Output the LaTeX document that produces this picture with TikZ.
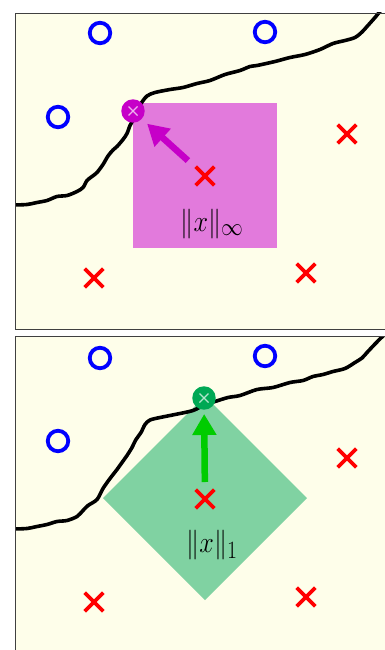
\documentclass[tikz,border=0pt]{standalone}
\usepackage{amsmath}
\usepackage{graphicx}
\usepackage{xcolor}
\usetikzlibrary{arrows.meta,calc,positioning,shapes.misc}
\definecolor{bgyel}{RGB}{254,254,234}
\definecolor{sqpink}{RGB}{226,122,220}
\definecolor{ptmag}{RGB}{198,0,200}
\definecolor{dmgreen}{RGB}{128,210,162}
\definecolor{ptgreen}{RGB}{0,168,84}
\definecolor{argreen}{RGB}{0,204,0}
\newcommand{\nrm}[1]{\scalebox{1.05}[1.2]{$\lVert x\rVert_{#1}$}}
\begin{document}
\begin{tikzpicture}[
    x=1pt, y=-1pt,
    negmark/.style={circle, draw=blue, line width=3.8pt, minimum size=20.5pt, inner sep=0pt},
    posmark/.style={cross out, draw=red, line width=3.6pt, minimum size=15pt, inner sep=0pt},
    advmark/.style={circle, line width=3.4pt, minimum size=20pt, inner sep=0pt,
                 path picture={\draw[white, opacity=.7, line width=1.2pt]
                   ($(path picture bounding box.center)+(-4.5,-4.5)$) -- +(9,9)
                   ($(path picture bounding box.center)+(-4.5,4.5)$) -- +(9,-9);}},
    bnd/.style ={line width=3.6pt, line join=round, line cap=round},
    arr/.style ={-{Triangle[length=21pt, width=23pt]}, line width=6.5pt},
    lbl/.style ={font=\Huge, inner sep=0pt},
  ]
  \useasboundingbox (0,0) rectangle (385,650);
  % ---------- top panel: infinity norm ----------
  \fill[bgyel] (15,13) rectangle (392,329);
  \fill[sqpink] (133,103) rectangle (277,248);
  \begin{scope}
    \clip (15,13) rectangle (392,329);
    \draw[bnd] plot[smooth, tension=0.5] coordinates {
      (13,205) (27,204.5) (37,202.5) (47,200.5) (57,196.5) (67,195.5) (77,191.5) (83,187.5)
      (87,180.5) (92,176.5) (97,172.5) (103,164.5) (108,156) (113,150) (117,146.5) (123,139.5)
      (127,133.5) (130,125.5) (134,118.5) (137,111.5) (141,103.5) (147,96) (155,92.5)
      (170,89.5) (183,87.5) (197,83.5) (210,80.5) (225,74.5) (240,70.5) (250,66.5) (257,65.5)
      (275,61.5) (290,57.5) (305,54.5) (320,49.5) (333,43.5) (345,40.5) (355,37.5) (362,32)
      (367,26.5) (375,17.5) (383,8) (392,0)};
  \end{scope}
  \draw[black!75, line width=0.9pt] (392,13) -- (15,13) -- (15,329) -- (392,329);
  \node[negmark] (o1) at (100,33) {};
  \node[negmark] (o2) at (265,32) {};
  \node[negmark] (o3) at (58,117) {};
  \node[posmark] (x1) at (347,134) {};
  \node[posmark] (x2) at (205,176) {};
  \node[posmark] (x3) at (94,278) {};
  \node[posmark] (x4) at (306,273) {};
  \node[advmark, draw=ptmag, fill=ptmag] (a1) at (133,111) {};
  \draw[arr, ptmag, shorten <=23pt, shorten >=19pt] (x2.center) -- (a1.center);
  \node[lbl] (n1) at (212,224) {\nrm{\infty}};
  % ---------- bottom panel: l1 norm ----------
  \fill[bgyel] (15,336) rectangle (392,655);
  \fill[dmgreen] (103,498) -- (205,396) -- (307,498) -- (205,600) -- cycle;
  \begin{scope}
    \clip (15,336) rectangle (392,655);
    \draw[bnd] plot[smooth, tension=0.5] coordinates {
      (13,529) (27,528.5) (37,526.5) (47,524.5) (57,521.5) (67,520.5) (77,516.5) (83,510.5)
      (88,505.5) (97,499.5) (103,488.5) (110,478.5) (117,469.5) (122,462.5) (127,455.5)
      (132,447.5) (136,439.5) (141,432.5) (145,424.5) (150,420) (160,417.5) (175,414.5)
      (193,410.5) (205,404.5) (215,401.5) (228,397.5) (240,395.5) (257,389.5) (273,387.5)
      (290,382.5) (303,380.5) (313,376.5) (323,374.5) (333,371.5) (345,368.5) (355,362.5)
      (362,358) (367,352.5) (375,344) (383,336) (392,328)};
  \end{scope}
  \draw[black!75, line width=0.9pt] (392,336) -- (15,336) -- (15,655);
  \node[negmark] (o4) at (100,358) {};
  \node[negmark] (o5) at (265,356) {};
  \node[negmark] (o6) at (58,441) {};
  \node[posmark] (x5) at (347,458) {};
  \node[posmark] (x6) at (205,499) {};
  \node[posmark] (x7) at (94,602) {};
  \node[posmark] (x8) at (306,597) {};
  \node[advmark, draw=ptgreen, fill=ptgreen] (a2) at (204,398) {};
  \draw[arr, argreen, shorten <=17pt, shorten >=16pt] (x6.center) -- (a2.center);
  \node[lbl] (n2) at (212,545) {\nrm{1}};
\end{tikzpicture}
\end{document}
